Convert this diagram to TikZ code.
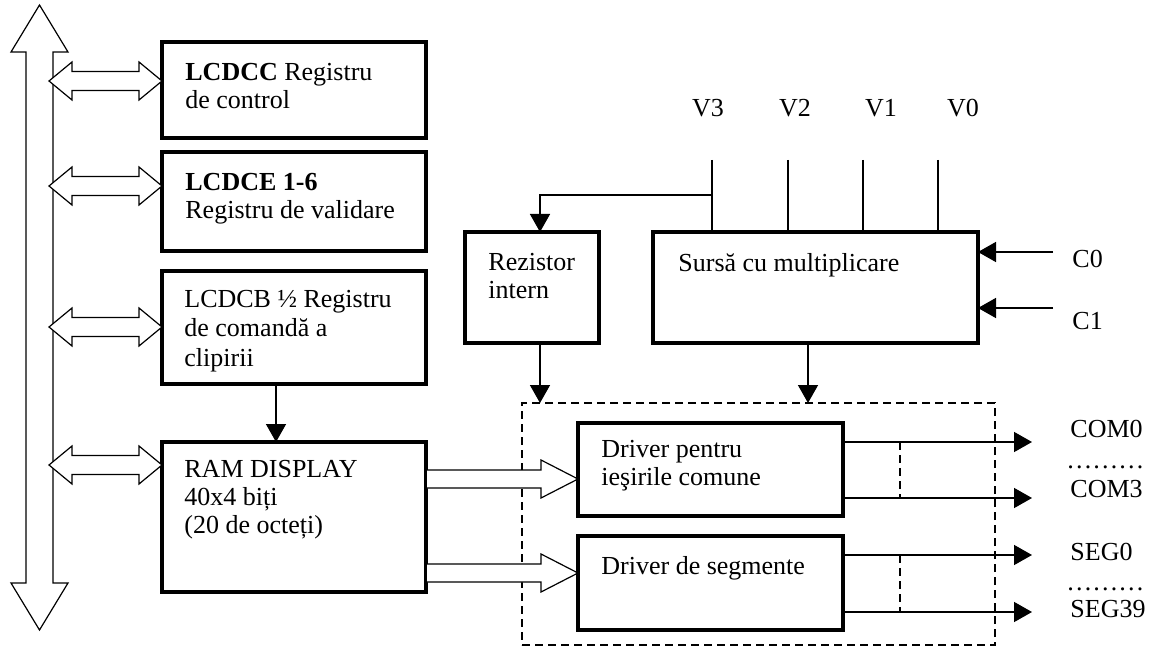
\documentclass[tikz,border=0pt]{standalone}
\usepackage{fontspec}
\setmainfont{Liberation Serif}
\usetikzlibrary{arrows.meta,calc}
\begin{document}
\begin{tikzpicture}[x=0.5pt,y=-0.5pt,
  font=\fontsize{13}{14}\selectfont,
  blk/.style={draw, line width=1.6pt, inner sep=0pt, outer sep=0pt, anchor=north west},
  dashbox/.style={draw, line width=0.6pt, dash pattern=on 4pt off 2.5pt, inner sep=0pt, outer sep=0pt, anchor=north west},
  txt/.style={inner sep=0pt, anchor=north west, align=left},
  lbl/.style={inner sep=0pt, anchor=base west},
  vlbl/.style={inner sep=0pt, anchor=base},
  wire/.style={line width=0.75pt},
  arr/.style={wire, -{Triangle[length=9pt,width=10pt]}},
  dwire/.style={line width=0.6pt, dash pattern=on 4pt off 2.5pt},
  hollow/.style={line width=0.6pt, fill=white, line join=miter},
  dblarrow/.pic={
    \draw[hollow] (0,0) -- (-23,-19) -- (-23,-9.5) -- (-90,-9.5) -- (-90,-19)
      -- (-113,0) -- (-90,19) -- (-90,9.5) -- (-23,9.5) -- (-23,19) -- cycle;
  },
  fatarrow/.pic={
    \fill[white] (-151,-9) -- (-37,-9) -- (-37,-19) -- (0,0) -- (-37,19) -- (-37,9) -- (-151,9) -- cycle;
    \draw[hollow] (-151,-9) -- (-37,-9) -- (-37,-19) -- (0,0) -- (-37,19) -- (-37,9) -- (-151,9);
  }
]
\useasboundingbox (0,0) rectangle (1150,652);

% data bus
\draw[hollow] (26,583) -- (26,52) -- (11,52) -- (39.5,5) -- (68,52) -- (53,52)
  -- (53,583) -- (68,583) -- (39.5,630) -- (11,583) -- cycle;

% register blocks
\node[blk, minimum width=132pt, minimum height=48pt]   (b1)  at (162,42)  {};
\node[blk, minimum width=132pt, minimum height=49.5pt] (b2)  at (162,152) {};
\node[blk, minimum width=132pt, minimum height=56.5pt] (b3)  at (162,271) {};
\node[blk, minimum width=132pt, minimum height=75pt]   (ram) at (162,442) {};

\node[txt] (t1) at (185,62.8)  {\textbf{LCDCC} Registru\\de control};
\node[txt] (t2) at (185,172.8) {\textbf{LCDCE 1-6}\\Registru de validare};
\node[txt, font=\fontsize{13}{14.75}\selectfont] (t3) at (184,289.8) {LCDCB ½ Registru\\de comandă a\\clipirii};
\node[txt] (t4) at (184,459.8) {RAM DISPLAY\\40x4 biți\\(20 de octeți)};

% bus links
\pic at (b1.west |- 0,81)   {dblarrow};
\pic at (b2.west |- 0,186)  {dblarrow};
\pic at (b3.west |- 0,327)  {dblarrow};
\pic at (ram.west |- 0,465) {dblarrow};

\draw[arr] (b3.south -| 276,0) -- (ram.north -| 276,0);

% supply section
\node[blk, minimum width=67pt,    minimum height=55.5pt] (rez)   at (465,232) {};
\node[blk, minimum width=162.5pt, minimum height=55.5pt] (sursa) at (653,232) {};
\node[txt] (t5) at (488,252.8) {Rezistor\\intern};
\node[txt] (t6) at (678,252.8) {Sursă cu multiplicare};

\coordinate (v3) at (712,160);
\coordinate (v2) at (788,160);
\coordinate (v1) at (863,160);
\coordinate (v0) at (938,160);
\node[vlbl] (lv3) at (708,117) {V3};
\node[vlbl] (lv2) at (795,117) {V2};
\node[vlbl] (lv1) at (881,117) {V1};
\node[vlbl] (lv0) at (963,117) {V0};
\foreach \v in {v3,v2,v1,v0} \draw[wire] (\v) -- (\v |- sursa.north);

\coordinate (jn) at (712,195);
\draw[arr] (jn) -| (rez.north -| 540,0);

\coordinate (c0) at (1053,252);
\coordinate (c1) at (1053,308);
\draw[arr] (c0) -- (c0 -| sursa.east);
\draw[arr] (c1) -- (c1 -| sursa.east);
\node[lbl] (lc0) at (1072,267) {C0};
\node[lbl] (lc1) at (1072,329) {C1};

% driver section
\node[dashbox, minimum width=236.5pt, minimum height=121pt] (dbox) at (522,403) {};
\node[blk, minimum width=132.5pt, minimum height=46.5pt] (drv1) at (578,423) {};
\node[blk, minimum width=132.5pt, minimum height=47pt]   (drv2) at (578,536) {};
\node[txt] (t7) at (601,439.8) {Driver pentru\\ieşirile comune};
\node[txt] (t8) at (601,555.8) {Driver de segmente};

\draw[arr] (rez.south -| 540,0) -- (dbox.north -| 540,0);
\draw[arr] (sursa.south -| 808,0) -- (dbox.north -| 808,0);

\pic at (drv1.west |- 0,479) {fatarrow};
\pic at (drv2.west |- 0,573) {fatarrow};

% outputs
\coordinate (o0) at (1032,442);
\coordinate (o3) at (1032,498);
\coordinate (s0) at (1032,555);
\coordinate (s39) at (1032,612);
\foreach \o/\d in {o0/drv1,o3/drv1,s0/drv2,s39/drv2} \draw[arr] (\o -| \d.east) -- (\o);
\draw[dwire] (o0 -| 900,0) -- (o3 -| 900,0);
\draw[dwire] (s0 -| 900,0) -- (s39 -| 900,0);

\node[lbl] (lo0)  at (1070,437) {COM0};
\node[lbl] (ld1)  at (1066,468) {………};
\node[lbl] (lo3)  at (1070,497) {COM3};
\node[lbl] (ls0)  at (1070,560) {SEG0};
\node[lbl] (ld2)  at (1066,590) {………};
\node[lbl] (ls39) at (1070,617) {SEG39};
\end{tikzpicture}
\end{document}
